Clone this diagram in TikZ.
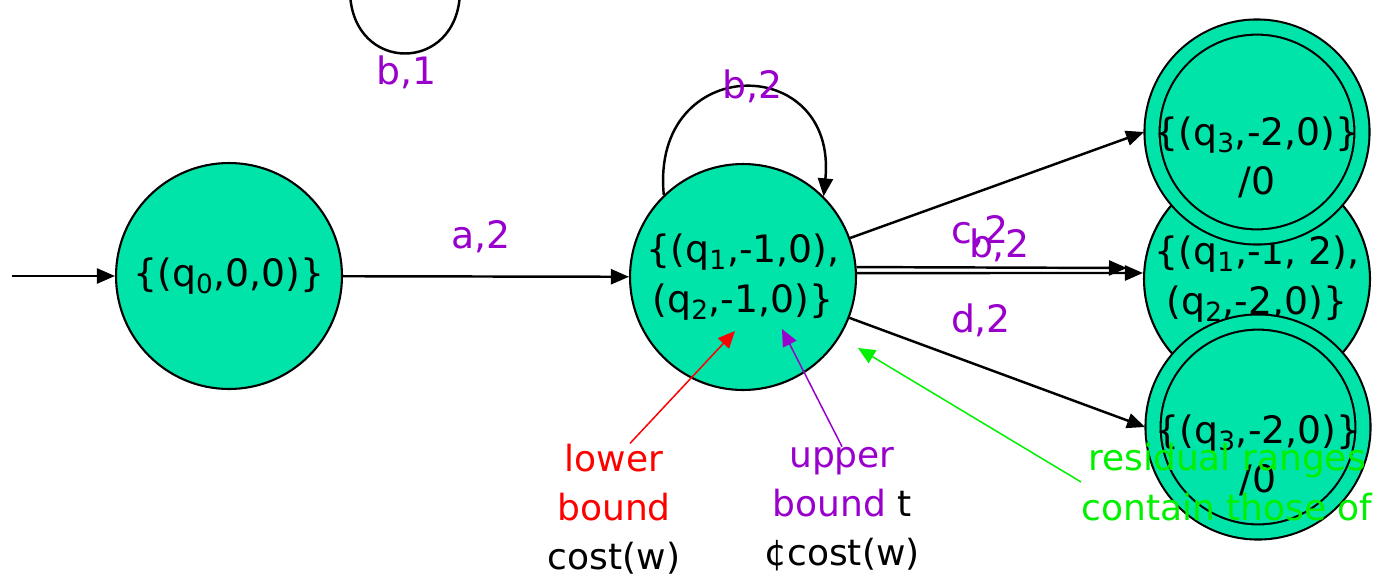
\documentclass[tikz,border=0pt]{standalone}
\usepackage{fontspec}
\setmainfont{DejaVu Sans}
\usepackage{xcolor}
\usetikzlibrary{arrows.meta,positioning,calc}
\definecolor{stategreen}{RGB}{0,228,170}
\definecolor{lblpurple}{RGB}{153,0,204}
\definecolor{notered}{RGB}{255,0,0}
\definecolor{notegreen}{RGB}{0,240,0}
\newcommand\statefont{\fontsize{21.5}{28}\selectfont}
\newcommand\notefont{\fontsize{20.5}{28}\selectfont}

\begin{document}
\begin{tikzpicture}[x=0.02cm,y=-0.02cm,
  state/.style={circle,draw,line width=1.2pt,fill=stategreen,minimum size=4.52cm,
                inner sep=0pt,align=center,font=\statefont},
  final/.style={state,minimum size=4.2cm,double=stategreen,double distance=0.26cm,
                outer sep=0.16cm},
  arr/.style={-{Triangle[length=0.36cm,width=0.3cm]},line width=1.4pt},
  note/.style={-{Triangle[length=0.34cm,width=0.3cm]},line width=0.85pt},
  lbl/.style={text=lblpurple,font=\statefont,inner sep=1pt},
  txt/.style={align=center,font=\notefont,inner sep=0pt}
]
\useasboundingbox (0,0) rectangle (1383,582);
% States, left to right; right column drawn middle, top, bottom
\node[state] (q0) at (229,276) {\{(q\textsubscript{0},0,0)\}};
\node[state] (n1) at (743,277) {\{(q\textsubscript{1},-1,0),\\(q\textsubscript{2},-1,0)\}};
\node[state] (fb) at (1257,279) {\{(q\textsubscript{1},-1, 2),\\(q\textsubscript{2},-2,0)\}};
\node[final] (fa) at (1257,132) {};
\node[txt,font=\statefont] (fatxt) at (1257,157) {\{(q\textsubscript{3},-2,0)\}\\/0};
\node[final] (fc) at (1258,427) {};
\node[txt,font=\statefont] (fctxt) at (1258,455) {\{(q\textsubscript{3},-2,0)\}\\/0};

% Loop of a state above the picture
\coordinate (offl) at (350,-8);
\coordinate (offr) at (460,-8);
\draw[line width=1.4pt] (offl) .. controls (352,74) and (458,74) .. (offr);
\node[lbl] (lb1) at (407,72) {b,1};

% Transitions
\coordinate (start) at (12,276);
\draw[arr] (start) -- (q0.west);
\draw[arr] (q0) -- (n1) node[lbl] at (481,237) {a,2};
\draw[arr] (n1.134) .. controls (650,52) and (838,52) .. (n1.45);
\node[lbl] (lb2) at (753,86) {b,2};
\draw[arr] (n1.20) -- (fa.west);
\draw[arr] (n1.5) -- ([xshift=-0.32cm,yshift=0.22cm]fb.west);
\draw[arr] (n1.2) -- ([yshift=0.12cm]fb.west);
\node[lbl] (lc2) at (980,232) {c,2};
\node[lbl] (lb3) at (999,245) {b,2};
\draw[arr] (n1.-21) -- (fc.west) node[lbl] at (981,320) {d,2};

% Notes
\node[txt] (lowtxt) at (614,509)
  {\textcolor{notered}{lower}\\\textcolor{notered}{bound}\\cost(w)};
\coordinate (lowtip) at (735,331);
\draw[note,notered] ([xshift=0.32cm]lowtxt.north) -- (lowtip);
\node[txt] (uptxt) at (842,509)
  {\textcolor{lblpurple}{upper}\\\textcolor{lblpurple}{bound} t\\¢cost(w)};
\coordinate (uptip) at (782,329);
\draw[note,lblpurple] (uptxt.north) -- (uptip);
\node[txt,text=notegreen] (restxt) at (1227,482) {residual ranges\\contain those of};
\coordinate (restip) at (858,348);
\draw[note,notegreen] (restxt.west) -- (restip);
\end{tikzpicture}
\end{document}
